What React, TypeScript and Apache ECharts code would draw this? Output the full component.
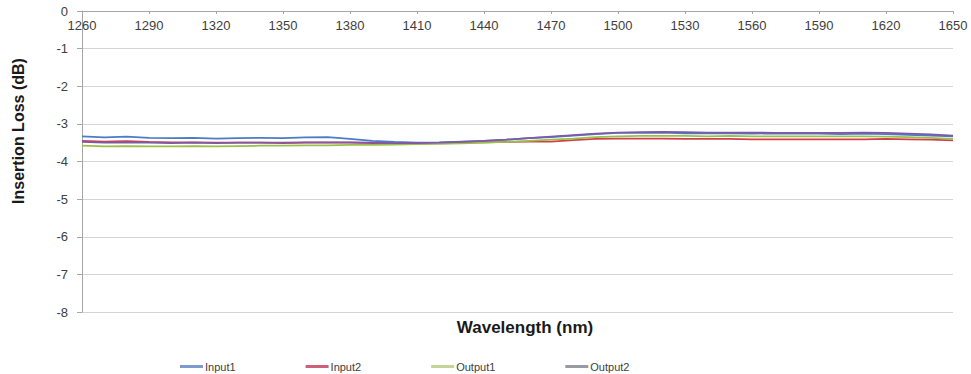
import React, { useEffect, useRef } from "react";
import * as echarts from "echarts";

const wavelengths = [
  1260, 1270, 1280, 1290, 1300, 1310, 1320, 1330, 1340, 1350,
  1360, 1370, 1380, 1390, 1400, 1410, 1420, 1430, 1440, 1450,
  1460, 1470, 1480, 1490, 1500, 1510, 1520, 1530, 1540, 1550,
  1560, 1570, 1580, 1590, 1600, 1610, 1620, 1630, 1640, 1650,
];

const input1 = [
  -3.33, -3.36, -3.34, -3.37, -3.38, -3.37, -3.39, -3.38, -3.37, -3.38,
  -3.36, -3.35, -3.4, -3.45, -3.48, -3.5, -3.49, -3.47, -3.45, -3.42,
  -3.38, -3.35, -3.31, -3.27, -3.24, -3.24, -3.23, -3.25, -3.25, -3.25,
  -3.26, -3.25, -3.26, -3.26, -3.27, -3.26, -3.27, -3.29, -3.31, -3.33,
];

const input2 = [
  -3.45, -3.47, -3.46, -3.48, -3.49, -3.49, -3.5, -3.5, -3.5, -3.51,
  -3.5, -3.5, -3.5, -3.51, -3.52, -3.52, -3.51, -3.5, -3.49, -3.48,
  -3.47, -3.47, -3.43, -3.4, -3.39, -3.39, -3.39, -3.4, -3.4, -3.4,
  -3.41, -3.41, -3.41, -3.41, -3.41, -3.41, -3.4, -3.41, -3.42, -3.44,
];

const output1 = [
  -3.58, -3.6, -3.59, -3.6, -3.6, -3.59, -3.6, -3.59, -3.58, -3.58,
  -3.57, -3.57, -3.56, -3.56, -3.55, -3.54, -3.53, -3.52, -3.5, -3.48,
  -3.45, -3.42, -3.39, -3.35, -3.33, -3.32, -3.32, -3.32, -3.33, -3.32,
  -3.33, -3.33, -3.33, -3.33, -3.33, -3.33, -3.34, -3.35, -3.37, -3.4,
];

const output2 = [
  -3.48, -3.5, -3.49, -3.5, -3.51, -3.5, -3.51, -3.5, -3.5, -3.5,
  -3.49, -3.49, -3.49, -3.5, -3.51, -3.51, -3.5, -3.48, -3.45, -3.42,
  -3.38, -3.34, -3.3, -3.26, -3.23, -3.22, -3.21, -3.22, -3.23, -3.23,
  -3.23, -3.24, -3.24, -3.24, -3.24, -3.23, -3.24, -3.26, -3.28, -3.31,
];

const seriesNames = ["Input1", "Input2", "Output1", "Output2"];
const seriesData = [input1, input2, output1, output2];
const lineColors = ["#4a7cc9", "#d0404a", "#9bc04a", "#7d5aa8"];
const legendColors = ["#7f9bcc", "#d0607a", "#c2d49a", "#9a9aa2"];

const FONT = "'Liberation Sans', Arial, sans-serif";

export default function App() {
  const ref = useRef<HTMLDivElement>(null);

  useEffect(() => {
    if (!ref.current) return;
    const chart = echarts.init(ref.current, undefined, { renderer: "svg" });
    chart.setOption({
      animation: false,
      backgroundColor: "#ffffff",
      textStyle: { fontFamily: FONT },
      grid: { left: 82, right: 18, top: 11, bottom: 62, containLabel: false },
      xAxis: {
        type: "value",
        position: "top",
        min: 1260,
        max: 1650,
        interval: 30,
        axisLine: { show: true, onZero: false, lineStyle: { color: "#a6a6a6", width: 1 } },
        axisTick: { show: true, inside: true, length: 3, lineStyle: { color: "#a6a6a6" } },
        axisLabel: {
          inside: true,
          margin: 8,
          color: "#404040",
          fontSize: 13,
          fontFamily: FONT,
          formatter: (v: number) => String(v),
        },
        splitLine: { show: false },
      },
      yAxis: {
        type: "value",
        min: -8,
        max: 0,
        interval: 1,
        axisLine: { show: true, lineStyle: { color: "#a6a6a6", width: 1 } },
        axisTick: { show: true, length: 5, lineStyle: { color: "#a6a6a6" } },
        axisLabel: { margin: 14, color: "#404040", fontSize: 13, fontFamily: FONT },
        splitLine: { show: true, lineStyle: { color: "#d4d4d4", width: 1 } },
      },
      legend: {
        left: 175,
        top: 356,
        itemGap: 70,
        itemWidth: 23,
        itemHeight: 3,
        icon: "rect",
        itemStyle: { borderWidth: 0 },
        textStyle: { color: "#404040", fontSize: 11, fontFamily: FONT, padding: [0, 0, 0, -3] },
        data: seriesNames.map((n, i) => ({
          name: n,
          itemStyle: { color: legendColors[i], borderWidth: 0 },
        })),
      },
      graphic: [
        {
          type: "text",
          x: 525,
          y: 327,
          style: {
            text: "Wavelength (nm)",
            font: `bold 17px ${FONT}`,
            fill: "#1a1a1a",
            align: "center",
            verticalAlign: "middle",
          },
        },
        {
          type: "text",
          x: 18,
          y: 131,
          rotation: Math.PI / 2,
          style: {
            text: "Insertion Loss (dB)",
            font: `bold 16px ${FONT}`,
            fill: "#1a1a1a",
            align: "center",
            verticalAlign: "middle",
          },
        },
      ],
      series: seriesNames.map((n, i) => ({
        name: n,
        type: "line",
        data: wavelengths.map((w, j) => [w, seriesData[i][j]]),
        showSymbol: false,
        symbol: "none",
        lineStyle: { color: lineColors[i], width: 1.8 },
        itemStyle: { color: lineColors[i] },
      })),
    });
    return () => chart.dispose();
  }, []);

  return (
    <div
      ref={ref}
      style={{ position: "fixed", left: 0, top: 0, width: 971, height: 374 }}
    />
  );
}
